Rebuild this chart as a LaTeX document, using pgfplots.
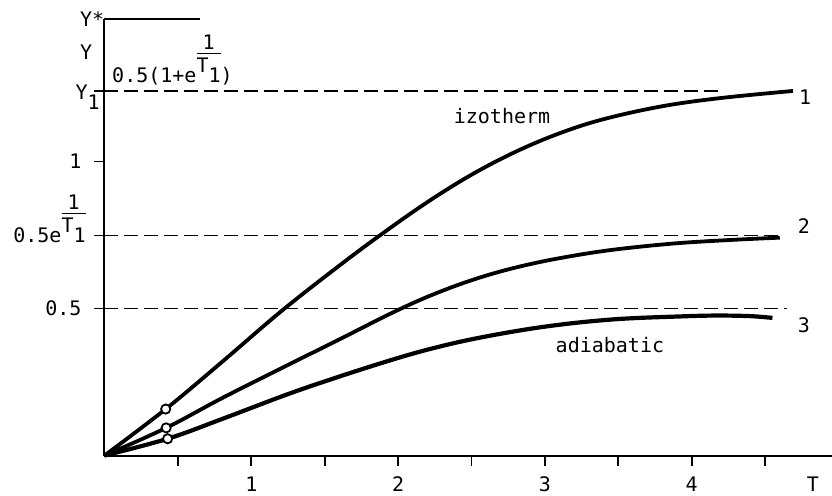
\documentclass[border=0pt]{standalone}
\usepackage{fontspec}
\setmainfont{DejaVu Sans Mono}
\usepackage{pgfplots}
\pgfplotsset{compat=1.18}
\newcommand\efrac{\begingroup\setbox0\hbox{T1}\rlap{\raisebox{16.5pt}{\makebox[\wd0]{1}}}\rlap{\raisebox{14pt}{\rule{\wd0}{0.6pt}}}\raisebox{5pt}{T}1\endgroup}
\begin{document}
\begin{tikzpicture}
\begin{axis}[
  at={(0,0)}, anchor=origin,
  x=73.4pt, y=147pt,
  xmin=0, xmax=4.956, ymin=0, ymax=1.485,
  axis x line*=bottom, axis y line*=left,
  axis line style={line width=1pt},
  clip=false,
  /pgf/number format/assume math mode=true,
  xtick={0.5,1,1.5,2,2.5,3,3.5,4,4.5},
  xticklabels={,1,,2,,3,,4,},
  ytick={0.5,0.748,1,1.241},
  yticklabels={0.5,,1,},
  tick align=outside,
  major tick length=5pt,
  tick style={line width=0.9pt, black},
  xticklabel style={yshift=-2.2pt},
  yticklabel style={xshift=-3pt},
]
% dashed reference lines
\addplot[black, line width=0.9pt, dash pattern=on 7pt off 3pt] coordinates {(0,1.241)(4.21,1.241)};
\addplot[black, line width=0.9pt, dash pattern=on 7pt off 3pt] coordinates {(0,0.748)(4.62,0.748)};
\addplot[black, line width=0.9pt, dash pattern=on 7pt off 3pt] coordinates {(0,0.5)(4.65,0.5)};
% top segment of the frame
\addplot[black, line width=1pt] coordinates {(0,1.485)(0.65,1.485)};
% curve 1: izotherm
\addplot[black, line width=1.9pt, smooth, tension=0.6] coordinates {
(0,0)(0.417,0.158)(0.8,0.318)(1.207,0.492)(1.6,0.646)(1.888,0.753)(2.2,0.862)
(2.5,0.955)(2.8,1.033)(3.1,1.096)(3.4,1.144)(3.8,1.188)(4.2,1.216)(4.69,1.240)};
% curve 2
\addplot[black, line width=1.9pt, smooth, tension=0.6] coordinates {
(0,0)(0.42,0.094)(0.8,0.195)(1.218,0.30)(1.6,0.395)(2.0,0.495)(2.3,0.56)
(2.6,0.612)(2.9,0.651)(3.2,0.68)(3.5,0.702)(3.9,0.722)(4.3,0.734)(4.6,0.741)};
% curve 3: adiabatic
\addplot[black, line width=2.1pt, smooth, tension=0.6] coordinates {
(0,0)(0.43,0.057)(0.8,0.124)(1.218,0.203)(1.5,0.252)(1.877,0.313)(2.2,0.360)
(2.558,0.401)(3.01,0.439)(3.466,0.463)(3.92,0.473)(4.17,0.476)(4.4,0.474)(4.55,0.468)};
% open circles
\addplot[only marks, mark=*, mark size=2.3pt, mark options={fill=white, draw=black, line width=0.9pt}]
  coordinates {(0.417,0.158)(0.42,0.094)(0.43,0.057)};
% labels
\node[anchor=west] at (axis cs:-0.214,1.485) {Y*};
\node[anchor=west] at (axis cs:-0.214,1.372) {Y};
\node[anchor=base west, inner sep=0pt] at (axis cs:-0.20,1.212) {Y\raisebox{-5pt}{1}};
\node[anchor=base east, inner sep=0pt] at (axis cs:-0.126,0.726) {0.5e\efrac};
\node[anchor=base west, inner sep=0pt] at (axis cs:0.05,1.270) {0.5(1+e\efrac)};
\node at (axis cs:2.708,1.155) {izotherm};
\node at (axis cs:3.443,0.376) {adiabatic};
\node at (axis cs:4.772,1.219) {1};
\node at (axis cs:4.765,0.780) {2};
\node at (axis cs:4.765,0.444) {3};
\node at (axis cs:4.826,-0.098) {T};
\end{axis}
\pgfresetboundingbox
\path[use as bounding box] (-52.25pt,-19.75pt) rectangle (363.75pt,227.75pt);
\end{tikzpicture}
\end{document}
